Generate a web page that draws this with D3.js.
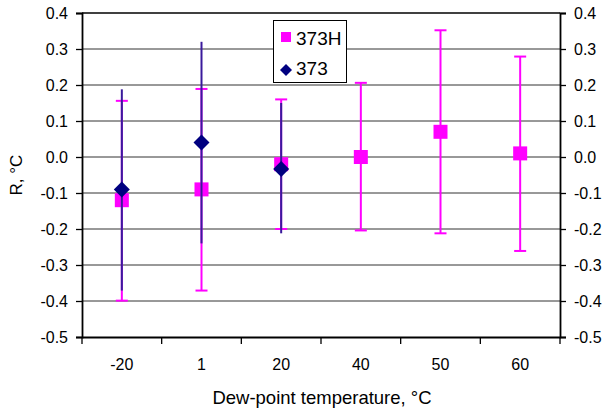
<!DOCTYPE html>
<html><head><meta charset="utf-8">
<script src="https://cdn.jsdelivr.net/npm/d3@7"></script>
<style>body{margin:0;background:#fff}svg{display:block}text{font-family:"Liberation Sans",Arial,sans-serif;fill:#000}</style>
</head><body><svg id="c" width="609" height="411"></svg>
<script>
const categories = ["-20","1","20","40","50","60"];
const s373H = [-0.12,-0.09,-0.02,0.00,0.07,0.01];
const s373H_hi = [0.156,0.189,0.16,0.206,0.352,0.279];
const s373H_lo = [-0.399,-0.371,-0.20,-0.204,-0.212,-0.261];
const s373 = [-0.09,0.04,-0.033];
const s373_hi = [0.188,0.32,0.15];
const s373_lo = [-0.371,-0.24,-0.212];
const yTicks = [0.4,0.3,0.2,0.1,0.0,-0.1,-0.2,-0.3,-0.4,-0.5];

const svg = d3.select("#c");
const L=82,R=560,T=13,B=337;
const x = d3.scaleBand().domain(categories).range([L,R]);
const y = d3.scaleLinear().domain([-0.5,0.4]).range([B,T]);

// gridlines
svg.append("g").selectAll("line").data(yTicks.filter(v=>v>-0.45&&v<0.35)).join("line")
  .attr("x1",L).attr("x2",R).attr("y1",d=>y(d)).attr("y2",d=>y(d))
  .attr("stroke","#333").attr("stroke-width",1);
// top border
svg.append("line").attr("x1",L).attr("x2",R).attr("y1",T).attr("y2",T).attr("stroke","#000").attr("stroke-width",1.5);

// left axis
const ya = svg.append("g").attr("transform",`translate(${L},0)`)
  .call(d3.axisLeft(y).tickValues(yTicks).tickFormat(d3.format(".1f")).tickSize(6).tickPadding(8));
ya.select(".domain").attr("stroke","#000").attr("stroke-width",1.8);
ya.selectAll("line").attr("stroke","#000").attr("stroke-width",1.3);
ya.selectAll("text").style("font-size","16px").attr("fill","#000");
// right axis
const yb = svg.append("g").attr("transform",`translate(${R},0)`)
  .call(d3.axisRight(y).tickValues(yTicks).tickFormat(d3.format(".1f")).tickSize(6).tickPadding(8));
yb.select(".domain").attr("stroke","#000").attr("stroke-width",1.8);
yb.selectAll("line").attr("stroke","#000").attr("stroke-width",1.3);
yb.selectAll("text").style("font-size","16px").attr("fill","#000");
ya.selectAll("text").text(d=>d3.format(".1f")(d).replace("−","-"));
yb.selectAll("text").text(d=>d3.format(".1f")(d).replace("−","-"));

// x axis
const xa = svg.append("g").attr("transform",`translate(0,${B})`)
  .call(d3.axisBottom(x).tickSize(0).tickPadding(22));
xa.select(".domain").attr("stroke","#000").attr("stroke-width",2);
xa.selectAll("text").style("font-size","16px").attr("fill","#000");
const bounds = categories.map(c=>x(c)).concat([R]);
svg.append("g").selectAll("line").data(bounds).join("line")
  .attr("x1",d=>d).attr("x2",d=>d).attr("y1",B).attr("y2",B+7)
  .attr("stroke","#000").attr("stroke-width",1.3);

const cx = i => x(categories[i]) + x.bandwidth()/2;
const pink="#ff00ff", navy="#000080";
// 373H error bars
const gH = svg.append("g");
s373H.forEach((v,i)=>{
  gH.append("line").attr("x1",cx(i)).attr("x2",cx(i)).attr("y1",y(s373H_hi[i])).attr("y2",y(s373H_lo[i])).attr("stroke",pink).attr("stroke-width",2);
  [s373H_hi[i],s373H_lo[i]].forEach(e=>gH.append("line").attr("x1",cx(i)-6).attr("x2",cx(i)+6).attr("y1",y(e)).attr("y2",y(e)).attr("stroke",pink).attr("stroke-width",2));
});
// 373H markers
svg.append("g").selectAll("rect").data(s373H).join("rect")
  .attr("x",(d,i)=>cx(i)-7).attr("y",d=>y(d)-7).attr("width",14).attr("height",14).attr("fill",pink);
// 373 error bars
const gN = svg.append("g");
s373.forEach((v,i)=>{
  gN.append("line").attr("x1",cx(i)).attr("x2",cx(i)).attr("y1",y(s373_hi[i])).attr("y2",y(s373_lo[i])).attr("stroke","#3a1a9c").attr("stroke-width",2);
});
// 373 markers
svg.append("g").selectAll("path").data(s373).join("path")
  .attr("transform",(d,i)=>`translate(${cx(i)},${y(d)})`)
  .attr("d","M0,-8L8,0L0,8L-8,0Z").attr("fill",navy);

// legend
const lg = svg.append("g");
lg.append("rect").attr("x",273.5).attr("y",20.5).attr("width",73).attr("height",62).attr("fill","#fff").attr("stroke","#000").attr("stroke-width",1);
lg.append("rect").attr("x",281).attr("y",32).attr("width",10).attr("height",10).attr("fill",pink);
lg.append("path").attr("transform","translate(286,70)").attr("d","M0,-6L6,0L0,6L-6,0Z").attr("fill",navy);
lg.append("text").attr("x",296).attr("y",44.5).style("font-size","19px").text("373H");
lg.append("text").attr("x",296).attr("y",74.5).style("font-size","19px").text("373");

// titles
svg.append("text").attr("x",322).attr("y",404).attr("text-anchor","middle").style("font-size","18.5px").text("Dew-point temperature, °C");
svg.append("text").attr("transform","translate(22,175) rotate(-90)").attr("text-anchor","middle").style("font-size","17px").text("R, °C");
</script></body></html>
